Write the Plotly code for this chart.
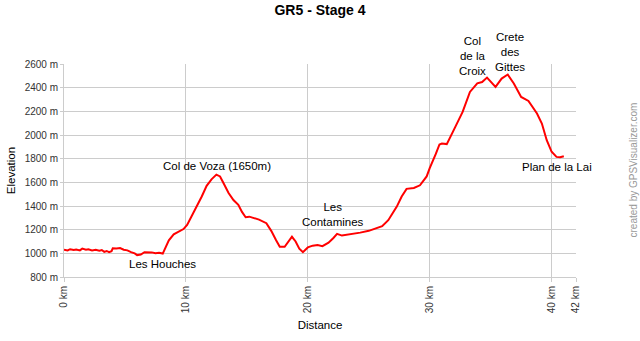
import plotly.graph_objects as go

distance_km = [0.0, 0.3, 0.5, 0.8, 1.0, 1.3, 1.5, 1.8, 2.0, 2.3, 2.6, 2.9, 3.1, 3.3, 3.5, 3.7, 3.9,
               4.0, 4.3, 4.6, 4.9, 5.2, 5.5, 5.8, 6.0, 6.3, 6.6, 6.9, 7.2, 7.5, 7.8, 8.1,
               8.3, 8.6, 9.0, 9.4, 9.8, 10.1, 10.5, 10.9, 11.3, 11.7, 12.1, 12.5, 12.8,
               13.1, 13.5, 13.9, 14.3, 14.6, 14.9, 15.2, 15.6, 16.0, 16.6, 17.0, 17.4, 17.7,
               18.1, 18.4, 18.7, 19.0, 19.3, 19.6, 20.0, 20.4, 20.8, 21.2, 21.7, 22.1, 22.4,
               22.8, 23.5, 24.3, 25.0, 25.6, 26.1, 26.6, 27.3, 27.7, 28.1, 28.7, 29.2, 29.75,
               30.0, 30.5, 30.8, 31.0, 31.4, 32.1, 32.7, 33.3, 33.9, 34.3, 34.7, 35.4, 35.9,
               36.4, 36.9, 37.5, 38.1, 38.8, 39.2, 39.6, 40.0, 40.4, 40.7, 41.0]
elevation_m = [1030, 1025, 1035, 1028, 1032, 1025, 1040, 1030, 1035, 1025, 1030, 1022, 1028, 1012, 1020, 1010, 1018,
               1042, 1040, 1044, 1030, 1025, 1010, 1000, 985, 990, 1010, 1012, 1008, 1000, 1005, 998,
               1040, 1110, 1160, 1185, 1205, 1240, 1320, 1395, 1480, 1570, 1625, 1665, 1650,
               1590, 1510, 1450, 1410, 1350, 1305, 1310, 1300, 1285, 1255, 1190, 1110, 1055,
               1055, 1095, 1140, 1100, 1040, 1010, 1050, 1065, 1070, 1060, 1090, 1130, 1165,
               1150, 1160, 1175, 1190, 1210, 1230, 1280, 1395, 1480, 1545, 1552, 1575, 1650,
               1720, 1840, 1920, 1928, 1923, 2069, 2195, 2364, 2437, 2448, 2485, 2406, 2477,
               2511, 2435, 2322, 2288, 2182, 2097, 1956, 1858, 1815, 1812, 1821]

x_tick_vals = [0, 10, 20, 30, 40, 42]
x_tick_text = ["0 km", "10 km", "20 km", "30 km", "40 km", "42 km"]
y_tick_vals = [800, 1000, 1200, 1400, 1600, 1800, 2000, 2200, 2400, 2600]
y_tick_text = [f"{v} m" for v in y_tick_vals]

waypoint_names = ["Col de Voza (1650m)", "Les Houches", "Les<br>Contamines",
                  "Col<br>de la<br>Croix", "Crete<br>des<br>Gittes", "Plan de la Lai"]
waypoint_km = [12.55, 8.12, 22.07, 33.47, 36.6, 40.44]
waypoint_label_m = [1738, 910, 1324, 2667, 2700, 1729]

FONT = "Liberation Sans, Arial, sans-serif"
Y0, Y1 = 800, 2600

fig = go.Figure()
fig.add_trace(go.Scatter(x=distance_km, y=elevation_m, mode="lines",
                         line=dict(color="#ff0000", width=2), hoverinfo="skip"))

for name, xk, ym in zip(waypoint_names, waypoint_km, waypoint_label_m):
    fig.add_annotation(x=xk, y=(ym - Y0) / (Y1 - Y0), xref="x", yref="paper", text=name,
                       showarrow=False, align="center", xanchor="center", yanchor="middle",
                       font=dict(family=FONT, size=11.5, color="#000"))

fig.add_annotation(x=(633 - 64) / 512, y=0.5, xref="paper", yref="paper",
                   text="created by GPSVisualizer.com", showarrow=False, textangle=-90,
                   xanchor="center", yanchor="middle", font=dict(family=FONT, size=10, color="#999"))

fig.update_layout(
    width=640, height=341,
    margin=dict(l=64, r=64, t=64, b=64),
    paper_bgcolor="white", plot_bgcolor="white",
    showlegend=False,
    title=dict(text="<b>GR5 - Stage 4</b>", x=0.5, xanchor="center", y=1 - 10 / 341, yanchor="middle",
               font=dict(family=FONT, size=14, color="#000")),
    font=dict(family=FONT, color="#333"),
)
fig.update_xaxes(range=[0, 42], tickvals=x_tick_vals, ticktext=x_tick_text, tickangle=-90,
                 automargin=False,
                 showgrid=True, gridcolor="#cccccc", gridwidth=1, zeroline=False,
                 showline=True, linecolor="#cccccc", ticks="outside", ticklen=4, tickcolor="#cccccc",
                 tickfont=dict(family=FONT, size=10, color="#333"),
                 title=dict(text="Distance", font=dict(family=FONT, size=11.5, color="#000"), standoff=8))
fig.update_yaxes(range=[Y0, Y1], tickvals=y_tick_vals, ticktext=y_tick_text,
                 automargin=False,
                 showgrid=True, gridcolor="#cccccc", gridwidth=1, zeroline=False,
                 showline=True, linecolor="#cccccc", ticks="outside", ticklen=3, tickcolor="#cccccc",
                 tickfont=dict(family=FONT, size=10, color="#333"),
                 title=dict(text="Elevation", font=dict(family=FONT, size=11.5, color="#000"), standoff=6))

fig.write_html("out.html")
